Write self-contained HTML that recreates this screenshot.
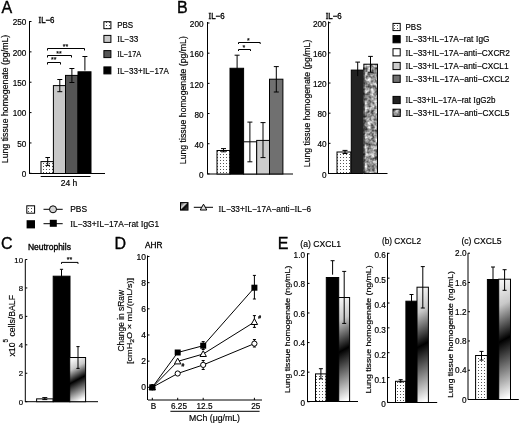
<!DOCTYPE html>
<html><head><meta charset="utf-8"><title>Figure</title>
<style>html,body{margin:0;padding:0;background:#fff;width:520px;height:423px;overflow:hidden} svg{filter:grayscale(1)}
svg text{font-family:"Liberation Sans", sans-serif;stroke:#000;stroke-width:0.18px} svg text.b{stroke-width:0.35px}</style></head>
<body><svg width="520" height="423" viewBox="0 0 520 423" font-family='"Liberation Sans", sans-serif' style="display:block"><defs><pattern id="dots" patternUnits="userSpaceOnUse" width="3" height="3"><rect width="3" height="3" fill="#fff"/><rect x="1" y="1" width="1" height="1" fill="#555"/></pattern><filter id="mottf" x="0" y="0" width="100%" height="100%" color-interpolation-filters="sRGB"><feTurbulence type="fractalNoise" baseFrequency="0.28" numOctaves="2" seed="5"/><feColorMatrix type="matrix" values="1.25 0 0 0 -0.03  1.25 0 0 0 -0.03  1.25 0 0 0 -0.03  0 0 0 0 1"/></filter><linearGradient id="grad" x1="0.45" y1="0" x2="0.55" y2="1"><stop offset="0" stop-color="#fff"/><stop offset="0.2" stop-color="#eee"/><stop offset="0.52" stop-color="#000"/><stop offset="1" stop-color="#fff"/></linearGradient><linearGradient id="gradsq" x1="0" y1="0" x2="1" y2="1"><stop offset="0" stop-color="#222"/><stop offset="0.42" stop-color="#ddd"/><stop offset="0.55" stop-color="#000"/><stop offset="1" stop-color="#555"/></linearGradient><linearGradient id="g1" gradientUnits="userSpaceOnUse" x1="68.51" y1="362.35" x2="86.79" y2="396.85"><stop offset="0" stop-color="#f4f4f4"/><stop offset="0.2" stop-color="#c8c8c8"/><stop offset="0.5" stop-color="#000"/><stop offset="1" stop-color="#fff"/></linearGradient><linearGradient id="g2" gradientUnits="userSpaceOnUse" x1="322.63" y1="308.9" x2="365.67" y2="390.1"><stop offset="0" stop-color="#f4f4f4"/><stop offset="0.2" stop-color="#c8c8c8"/><stop offset="0.5" stop-color="#000"/><stop offset="1" stop-color="#fff"/></linearGradient><linearGradient id="g3" gradientUnits="userSpaceOnUse" x1="398.85" y1="299.84" x2="446.55" y2="389.86"><stop offset="0" stop-color="#f4f4f4"/><stop offset="0.2" stop-color="#c8c8c8"/><stop offset="0.5" stop-color="#000"/><stop offset="1" stop-color="#fff"/></linearGradient><linearGradient id="g4" gradientUnits="userSpaceOnUse" x1="479.71" y1="292.39" x2="529.49" y2="386.31"><stop offset="0" stop-color="#f4f4f4"/><stop offset="0.2" stop-color="#c8c8c8"/><stop offset="0.5" stop-color="#000"/><stop offset="1" stop-color="#fff"/></linearGradient></defs><rect width="520" height="423" fill="#fff"/><text x="1.5" y="12.5" font-size="16" class="b">A</text>
<line x1="29.5" y1="21" x2="29.5" y2="173.5" stroke="#000" stroke-width="1"/>
<line x1="29.5" y1="173.3" x2="31.5" y2="173.3" stroke="#000" stroke-width="1"/>
<text x="26.3" y="177.1" font-size="8.2" text-anchor="end">0</text>
<line x1="29.5" y1="142.94" x2="31.5" y2="142.94" stroke="#000" stroke-width="1"/>
<text x="26.3" y="146.74" font-size="8.2" text-anchor="end">50</text>
<line x1="29.5" y1="112.58" x2="31.5" y2="112.58" stroke="#000" stroke-width="1"/>
<text x="26.3" y="116.38" font-size="8.2" text-anchor="end">100</text>
<line x1="29.5" y1="82.22" x2="31.5" y2="82.22" stroke="#000" stroke-width="1"/>
<text x="26.3" y="86.02" font-size="8.2" text-anchor="end">150</text>
<line x1="29.5" y1="51.86" x2="31.5" y2="51.86" stroke="#000" stroke-width="1"/>
<text x="26.3" y="55.66" font-size="8.2" text-anchor="end">200</text>
<line x1="29.5" y1="21.5" x2="31.5" y2="21.5" stroke="#000" stroke-width="1"/>
<text x="26.3" y="25.3" font-size="8.2" text-anchor="end">250</text>
<line x1="29" y1="173.5" x2="105" y2="173.5" stroke="#000" stroke-width="1"/>
<text x="38.5" y="22.5" font-size="9" class="b" textLength="16" lengthAdjust="spacingAndGlyphs"><tspan font-family="Liberation Serif">I</tspan>L−6</text>
<text x="5.4" y="99" font-size="8.3" text-anchor="middle" textLength="128.5" lengthAdjust="spacingAndGlyphs" transform="rotate(-90 5.4 99)" dy="2.8">Lung tissue homogenate (pg/mL)</text>
<rect x="41" y="161.6" width="12.4" height="11.9" fill="url(#dots)" stroke="#000" stroke-width="1"/>
<rect x="53.4" y="85.6" width="12.1" height="87.9" fill="#c8c8c8" stroke="#000" stroke-width="1"/>
<rect x="65.5" y="75.4" width="12.5" height="98.1" fill="#555" stroke="#000" stroke-width="1"/>
<rect x="78" y="71.8" width="13" height="101.7" fill="#000" stroke="#000" stroke-width="1"/>
<line x1="47.7" y1="157.5" x2="47.7" y2="165.4" stroke="#000" stroke-width="1"/>
<line x1="45.4" y1="157.5" x2="50" y2="157.5" stroke="#000" stroke-width="1"/>
<line x1="45.4" y1="165.4" x2="50" y2="165.4" stroke="#000" stroke-width="1"/>
<line x1="59.8" y1="79.5" x2="59.8" y2="91.7" stroke="#000" stroke-width="1"/>
<line x1="57.3" y1="79.5" x2="62.3" y2="79.5" stroke="#000" stroke-width="1"/>
<line x1="57.3" y1="91.7" x2="62.3" y2="91.7" stroke="#000" stroke-width="1"/>
<line x1="71.9" y1="68.5" x2="71.9" y2="82.5" stroke="#000" stroke-width="1"/>
<line x1="69.4" y1="68.5" x2="74.4" y2="68.5" stroke="#000" stroke-width="1"/>
<line x1="69.4" y1="82.5" x2="74.4" y2="82.5" stroke="#000" stroke-width="1"/>
<line x1="84.9" y1="56.5" x2="84.9" y2="70.5" stroke="#000" stroke-width="1"/>
<line x1="82.4" y1="56.5" x2="87.4" y2="56.5" stroke="#000" stroke-width="1"/>
<polyline points="47.5,64.5 47.5,62.5 60.5,62.5 60.5,64.5" fill="none" stroke="#000" stroke-width="1"/>
<polyline points="47.5,57.5 47.5,55.5 71.5,55.5 71.5,57.5" fill="none" stroke="#000" stroke-width="1"/>
<polyline points="47.5,50.5 47.5,48.5 84.5,48.5 84.5,50.5" fill="none" stroke="#000" stroke-width="1"/>
<text x="53.7" y="62" font-size="7" text-anchor="middle">**</text>
<text x="59" y="55.5" font-size="7" text-anchor="middle">**</text>
<text x="65.4" y="48.6" font-size="7" text-anchor="middle">**</text>
<line x1="40.7" y1="176.5" x2="90.5" y2="176.5" stroke="#000" stroke-width="1"/>
<text x="60.7" y="186" font-size="8.5" textLength="16.6" lengthAdjust="spacingAndGlyphs">24 h</text>
<rect x="103.9" y="21.7" width="7" height="7" fill="url(#dots)" stroke="#000" stroke-width="1"/>
<rect x="103.9" y="35.4" width="7" height="7" fill="#c8c8c8" stroke="#000" stroke-width="1"/>
<rect x="103.9" y="50.6" width="7" height="7" fill="#555" stroke="#000" stroke-width="1"/>
<rect x="103.9" y="66.9" width="7" height="7" fill="#000" stroke="#000" stroke-width="1"/>
<text x="117.2" y="28.4" font-size="8.5" textLength="16" lengthAdjust="spacingAndGlyphs">PBS</text>
<text x="117.2" y="42.1" font-size="8.5" textLength="21" lengthAdjust="spacingAndGlyphs"><tspan font-family="Liberation Serif">I</tspan>L−33</text>
<text x="117.2" y="57.3" font-size="8.5" textLength="24" lengthAdjust="spacingAndGlyphs"><tspan font-family="Liberation Serif">I</tspan>L−17A</text>
<text x="117.2" y="73.6" font-size="8.5" textLength="51.6" lengthAdjust="spacingAndGlyphs"><tspan font-family="Liberation Serif">I</tspan>L−33+<tspan font-family="Liberation Serif">I</tspan>L−17A</text>
<text x="177.1" y="12.5" font-size="16" class="b">B</text>
<line x1="207.5" y1="22" x2="207.5" y2="174" stroke="#000" stroke-width="1"/>
<line x1="207.5" y1="173.9" x2="209.5" y2="173.9" stroke="#000" stroke-width="1"/>
<text x="203.5" y="178.1" font-size="8.2" text-anchor="end">0</text>
<line x1="207.5" y1="143.72" x2="209.5" y2="143.72" stroke="#000" stroke-width="1"/>
<text x="203.5" y="147.92" font-size="8.2" text-anchor="end">40</text>
<line x1="207.5" y1="113.54" x2="209.5" y2="113.54" stroke="#000" stroke-width="1"/>
<text x="203.5" y="117.74" font-size="8.2" text-anchor="end">80</text>
<line x1="207.5" y1="83.36" x2="209.5" y2="83.36" stroke="#000" stroke-width="1"/>
<text x="203.5" y="87.56" font-size="8.2" text-anchor="end">120</text>
<line x1="207.5" y1="53.18" x2="209.5" y2="53.18" stroke="#000" stroke-width="1"/>
<text x="203.5" y="57.38" font-size="8.2" text-anchor="end">160</text>
<line x1="207.5" y1="23" x2="209.5" y2="23" stroke="#000" stroke-width="1"/>
<text x="203.5" y="27.2" font-size="8.2" text-anchor="end">200</text>
<line x1="207" y1="174" x2="293" y2="174" stroke="#000" stroke-width="1"/>
<text x="208.6" y="18.8" font-size="9" class="b" textLength="16" lengthAdjust="spacingAndGlyphs"><tspan font-family="Liberation Serif">I</tspan>L−6</text>
<text x="183.4" y="100.2" font-size="8.5" text-anchor="middle" textLength="128" lengthAdjust="spacingAndGlyphs" transform="rotate(-90 183.4 100.2)" dy="2.8">Lung tissue homogenate (pg/mL)</text>
<rect x="217" y="150.51" width="13" height="23.49" fill="url(#dots)" stroke="#000" stroke-width="1"/>
<rect x="230" y="68.27" width="13.6" height="105.73" fill="#000" stroke="#000" stroke-width="1"/>
<rect x="243.6" y="141.8" width="13.1" height="32.2" fill="#fff" stroke="#000" stroke-width="1"/>
<rect x="256.7" y="140.4" width="12.8" height="33.6" fill="#ccc" stroke="#000" stroke-width="1"/>
<rect x="269.5" y="79.2" width="13.4" height="94.8" fill="#707070" stroke="#000" stroke-width="1"/>
<line x1="223.5" y1="148.6" x2="223.5" y2="151.8" stroke="#000" stroke-width="1"/>
<line x1="221" y1="148.6" x2="226" y2="148.6" stroke="#000" stroke-width="1"/>
<line x1="221" y1="151.8" x2="226" y2="151.8" stroke="#000" stroke-width="1"/>
<line x1="237.1" y1="55.2" x2="237.1" y2="69.2" stroke="#000" stroke-width="1"/>
<line x1="234.6" y1="55.2" x2="239.6" y2="55.2" stroke="#000" stroke-width="1"/>
<line x1="249.9" y1="122.1" x2="249.9" y2="161.8" stroke="#000" stroke-width="1"/>
<line x1="247.4" y1="122.1" x2="252.4" y2="122.1" stroke="#000" stroke-width="1"/>
<line x1="247.4" y1="161.8" x2="252.4" y2="161.8" stroke="#000" stroke-width="1"/>
<line x1="263" y1="122.6" x2="263" y2="157.6" stroke="#000" stroke-width="1"/>
<line x1="260.5" y1="122.6" x2="265.5" y2="122.6" stroke="#000" stroke-width="1"/>
<line x1="260.5" y1="157.6" x2="265.5" y2="157.6" stroke="#000" stroke-width="1"/>
<line x1="276.3" y1="66.6" x2="276.3" y2="92" stroke="#000" stroke-width="1"/>
<line x1="273.8" y1="66.6" x2="278.8" y2="66.6" stroke="#000" stroke-width="1"/>
<line x1="273.8" y1="92" x2="278.8" y2="92" stroke="#000" stroke-width="1"/>
<polyline points="238.5,51 238.5,49.5 250.5,49.5 250.5,51" fill="none" stroke="#000" stroke-width="1"/>
<polyline points="238.5,44 238.5,42.5 260.2,42.5 260.2,44" fill="none" stroke="#000" stroke-width="1"/>
<text x="243.9" y="50.2" font-size="7" text-anchor="middle">*</text>
<text x="248.4" y="42.5" font-size="7" text-anchor="middle">*</text>
<line x1="328.5" y1="21.5" x2="328.5" y2="173.5" stroke="#000" stroke-width="1"/>
<line x1="328.5" y1="173.5" x2="330.5" y2="173.5" stroke="#000" stroke-width="1"/>
<text x="326.6" y="177.5" font-size="8.2" text-anchor="end">0</text>
<line x1="328.5" y1="143.34" x2="330.5" y2="143.34" stroke="#000" stroke-width="1"/>
<text x="326.6" y="147.34" font-size="8.2" text-anchor="end">40</text>
<line x1="328.5" y1="113.18" x2="330.5" y2="113.18" stroke="#000" stroke-width="1"/>
<text x="326.6" y="117.18" font-size="8.2" text-anchor="end">80</text>
<line x1="328.5" y1="83.02" x2="330.5" y2="83.02" stroke="#000" stroke-width="1"/>
<text x="326.6" y="87.02" font-size="8.2" text-anchor="end">120</text>
<line x1="328.5" y1="52.86" x2="330.5" y2="52.86" stroke="#000" stroke-width="1"/>
<text x="326.6" y="56.86" font-size="8.2" text-anchor="end">160</text>
<line x1="328.5" y1="22.7" x2="330.5" y2="22.7" stroke="#000" stroke-width="1"/>
<text x="326.6" y="26.7" font-size="8.2" text-anchor="end">200</text>
<line x1="328" y1="173.5" x2="387.5" y2="173.5" stroke="#000" stroke-width="1"/>
<text x="325.7" y="18.8" font-size="9" class="b" textLength="16" lengthAdjust="spacingAndGlyphs"><tspan font-family="Liberation Serif">I</tspan>L−6</text>
<text x="307.7" y="103.4" font-size="8.5" text-anchor="middle" textLength="127.5" lengthAdjust="spacingAndGlyphs" transform="rotate(-90 307.7 103.4)" dy="2.8">Lung tissue homogenate (pg/mL)</text>
<rect x="337" y="152" width="13.8" height="21.5" fill="url(#dots)" stroke="#000" stroke-width="1"/>
<rect x="351.3" y="70.1" width="12.6" height="103.4" fill="#222" stroke="#000" stroke-width="1"/>
<rect x="363.9" y="64.2" width="13.6" height="109.3" fill="#999" filter="url(#mottf)"/>
<rect x="363.9" y="64.2" width="13.6" height="109.3" fill="none" stroke="#000" stroke-width="1"/>
<line x1="345" y1="150.4" x2="345" y2="153.5" stroke="#000" stroke-width="1"/>
<line x1="342.5" y1="150.4" x2="347.5" y2="150.4" stroke="#000" stroke-width="1"/>
<line x1="342.5" y1="153.5" x2="347.5" y2="153.5" stroke="#000" stroke-width="1"/>
<line x1="357.7" y1="62.1" x2="357.7" y2="76.1" stroke="#000" stroke-width="1"/>
<line x1="355.35" y1="62.1" x2="360.05" y2="62.1" stroke="#000" stroke-width="1"/>
<line x1="370.5" y1="56.4" x2="370.5" y2="72.2" stroke="#000" stroke-width="1"/>
<line x1="368.15" y1="56.4" x2="372.85" y2="56.4" stroke="#000" stroke-width="1"/>
<line x1="368.15" y1="72.2" x2="372.85" y2="72.2" stroke="#000" stroke-width="1"/>
<rect x="393" y="23.4" width="7.2" height="7.2" fill="url(#dots)" stroke="#000" stroke-width="1"/>
<text x="405.5" y="30.2" font-size="8.8" textLength="16" lengthAdjust="spacingAndGlyphs">PBS</text>
<rect x="393" y="35.6" width="7.2" height="7.2" fill="#000" stroke="#000" stroke-width="1"/>
<text x="405.5" y="42.4" font-size="8.8" textLength="84" lengthAdjust="spacingAndGlyphs"><tspan font-family="Liberation Serif">I</tspan>L−33+<tspan font-family="Liberation Serif">I</tspan>L−17A−rat <tspan font-family="Liberation Serif">I</tspan>gG</text>
<rect x="393" y="48.7" width="7.2" height="7.2" fill="#fff" stroke="#000" stroke-width="1"/>
<text x="405.5" y="55.5" font-size="8.8" textLength="104.5" lengthAdjust="spacingAndGlyphs"><tspan font-family="Liberation Serif">I</tspan>L−33+<tspan font-family="Liberation Serif">I</tspan>L−17A−anti−CXCR2</text>
<rect x="393" y="62.4" width="7.2" height="7.2" fill="#ccc" stroke="#000" stroke-width="1"/>
<text x="405.5" y="69.2" font-size="8.8" textLength="103" lengthAdjust="spacingAndGlyphs"><tspan font-family="Liberation Serif">I</tspan>L−33+<tspan font-family="Liberation Serif">I</tspan>L−17A−anti−CXCL1</text>
<rect x="393" y="75.2" width="7.2" height="7.2" fill="#707070" stroke="#000" stroke-width="1"/>
<text x="405.5" y="82" font-size="8.8" textLength="104" lengthAdjust="spacingAndGlyphs"><tspan font-family="Liberation Serif">I</tspan>L−33+<tspan font-family="Liberation Serif">I</tspan>L−17A−anti−CXCL2</text>
<rect x="393" y="96.4" width="7.2" height="7.2" fill="#222" stroke="#000" stroke-width="1"/>
<text x="405.5" y="103.2" font-size="8.8" textLength="90" lengthAdjust="spacingAndGlyphs"><tspan font-family="Liberation Serif">I</tspan>L−33+<tspan font-family="Liberation Serif">I</tspan>L−17A−rat <tspan font-family="Liberation Serif">I</tspan>gG2b</text>
<rect x="393" y="109.2" width="7.2" height="7.2" fill="#999" filter="url(#mottf)"/>
<rect x="393" y="109.2" width="7.2" height="7.2" fill="none" stroke="#000" stroke-width="1"/>
<text x="405.5" y="116" font-size="8.8" textLength="104" lengthAdjust="spacingAndGlyphs"><tspan font-family="Liberation Serif">I</tspan>L−33+<tspan font-family="Liberation Serif">I</tspan>L−17A−anti−CXCL5</text>
<rect x="26.8" y="205.8" width="7.8" height="7.4" fill="url(#dots)" stroke="#000" stroke-width="1"/>
<line x1="43.5" y1="209.3" x2="62.7" y2="209.3" stroke="#000" stroke-width="1"/>
<circle cx="53" cy="209.3" r="3.5" fill="#d4d4d4" stroke="#000" stroke-width="1"/>
<text x="70.2" y="212.3" font-size="8.8" textLength="16.8" lengthAdjust="spacingAndGlyphs">PBS</text>
<rect x="26.6" y="220.2" width="8.4" height="8.2" fill="#000"/>
<line x1="43.5" y1="223.7" x2="62.7" y2="223.7" stroke="#000" stroke-width="1"/>
<rect x="49.8" y="219.8" width="7" height="7" fill="#000"/>
<text x="70.2" y="226.5" font-size="8.8" textLength="89" lengthAdjust="spacingAndGlyphs"><tspan font-family="Liberation Serif">I</tspan>L−33+<tspan font-family="Liberation Serif">I</tspan>L−17A−rat <tspan font-family="Liberation Serif">I</tspan>gG1</text>
<rect x="180.5" y="202.6" width="7.5" height="7.5" fill="url(#gradsq)" stroke="#000" stroke-width="1"/>
<line x1="193.8" y1="207.3" x2="213" y2="207.3" stroke="#000" stroke-width="1"/>
<polygon points="203.5,204.2 200.2,210 206.8,210" fill="#ddd" stroke="#000" stroke-width="1"/>
<text x="218.6" y="211.7" font-size="8.8" textLength="92.6" lengthAdjust="spacingAndGlyphs"><tspan font-family="Liberation Serif">I</tspan>L−33+<tspan font-family="Liberation Serif">I</tspan>L−17A−anti−<tspan font-family="Liberation Serif">I</tspan>L−6</text>
<text x="1.1" y="249" font-size="16" class="b">C</text>
<text x="27.9" y="250.2" font-size="8.5" class="b" textLength="43" lengthAdjust="spacingAndGlyphs">Neutrophils</text>
<line x1="25.3" y1="259.5" x2="25.3" y2="402" stroke="#000" stroke-width="1"/>
<line x1="25.3" y1="401.7" x2="27.3" y2="401.7" stroke="#000" stroke-width="1"/>
<text x="23" y="404.7" font-size="7.8" text-anchor="end">0</text>
<line x1="25.3" y1="373.26" x2="27.3" y2="373.26" stroke="#000" stroke-width="1"/>
<text x="23" y="376.26" font-size="7.8" text-anchor="end">2</text>
<line x1="25.3" y1="344.82" x2="27.3" y2="344.82" stroke="#000" stroke-width="1"/>
<text x="23" y="347.82" font-size="7.8" text-anchor="end">4</text>
<line x1="25.3" y1="316.38" x2="27.3" y2="316.38" stroke="#000" stroke-width="1"/>
<text x="23" y="319.38" font-size="7.8" text-anchor="end">6</text>
<line x1="25.3" y1="287.94" x2="27.3" y2="287.94" stroke="#000" stroke-width="1"/>
<text x="23" y="290.94" font-size="7.8" text-anchor="end">8</text>
<line x1="25.3" y1="259.5" x2="27.3" y2="259.5" stroke="#000" stroke-width="1"/>
<text x="23" y="262.5" font-size="7.8" text-anchor="end">10</text>
<line x1="25" y1="401.7" x2="98" y2="401.7" stroke="#000" stroke-width="1"/>
<text x="14.8" y="325.8" font-size="9.3" text-anchor="middle" textLength="61.5" lengthAdjust="spacingAndGlyphs" transform="rotate(-90 14.8 325.8)">x10<tspan font-size="6.8" dy="-7.2">5</tspan><tspan dy="7.2"> cells/BALF</tspan></text>
<rect x="36.6" y="398.86" width="16.6" height="2.84" fill="#fff" stroke="#000" stroke-width="1"/>
<rect x="53.2" y="276.2" width="16.8" height="125.5" fill="#000" stroke="#000" stroke-width="1"/>
<rect x="69.7" y="357.5" width="15.9" height="44.2" fill="url(#g1)" stroke="#000" stroke-width="1"/>
<line x1="44.8" y1="397.6" x2="44.8" y2="399.6" stroke="#000" stroke-width="1"/>
<line x1="42.3" y1="397.6" x2="47.3" y2="397.6" stroke="#000" stroke-width="1"/>
<line x1="42.3" y1="399.6" x2="47.3" y2="399.6" stroke="#000" stroke-width="1"/>
<line x1="61.5" y1="269.3" x2="61.5" y2="283.3" stroke="#000" stroke-width="1"/>
<line x1="59.9" y1="269.3" x2="63.1" y2="269.3" stroke="#000" stroke-width="1"/>
<line x1="78" y1="346.6" x2="78" y2="368.4" stroke="#000" stroke-width="1"/>
<line x1="76.4" y1="346.6" x2="79.6" y2="346.6" stroke="#000" stroke-width="1"/>
<line x1="76.4" y1="368.4" x2="79.6" y2="368.4" stroke="#000" stroke-width="1"/>
<polyline points="61.5,263.9 61.5,262.4 78,262.4 78,263.9" fill="none" stroke="#000" stroke-width="1"/>
<text x="69.6" y="262" font-size="7" text-anchor="middle">**</text>
<text x="114.6" y="248.5" font-size="16" class="b">D</text>
<text x="145" y="248.1" font-size="9" class="b" textLength="17.4" lengthAdjust="spacingAndGlyphs">AHR</text>
<line x1="147.5" y1="255.5" x2="147.5" y2="400" stroke="#000" stroke-width="1"/>
<line x1="147.5" y1="387.3" x2="149.5" y2="387.3" stroke="#000" stroke-width="1"/>
<text x="146" y="390.3" font-size="8.5" text-anchor="end">0</text>
<line x1="147.5" y1="361.14" x2="149.5" y2="361.14" stroke="#000" stroke-width="1"/>
<text x="146" y="364.14" font-size="8.5" text-anchor="end">2</text>
<line x1="147.5" y1="334.98" x2="149.5" y2="334.98" stroke="#000" stroke-width="1"/>
<text x="146" y="337.98" font-size="8.5" text-anchor="end">4</text>
<line x1="147.5" y1="308.82" x2="149.5" y2="308.82" stroke="#000" stroke-width="1"/>
<text x="146" y="311.82" font-size="8.5" text-anchor="end">6</text>
<line x1="147.5" y1="282.66" x2="149.5" y2="282.66" stroke="#000" stroke-width="1"/>
<text x="146" y="285.66" font-size="8.5" text-anchor="end">8</text>
<line x1="147.5" y1="256.5" x2="149.5" y2="256.5" stroke="#000" stroke-width="1"/>
<text x="146" y="259.5" font-size="8.5" text-anchor="end">10</text>
<line x1="148" y1="400" x2="262" y2="400" stroke="#000" stroke-width="1"/>
<line x1="152.3" y1="397.8" x2="152.3" y2="400" stroke="#000" stroke-width="1"/>
<line x1="177.7" y1="397.8" x2="177.7" y2="400" stroke="#000" stroke-width="1"/>
<line x1="203.2" y1="397.8" x2="203.2" y2="400" stroke="#000" stroke-width="1"/>
<line x1="254.4" y1="397.8" x2="254.4" y2="400" stroke="#000" stroke-width="1"/>
<text x="153.6" y="409" font-size="8.2" text-anchor="middle">B</text>
<text x="179" y="409" font-size="8.2" text-anchor="middle">6.25</text>
<text x="204.5" y="409" font-size="8.2" text-anchor="middle">12.5</text>
<text x="255.7" y="409" font-size="8.2" text-anchor="middle">25</text>
<line x1="170.4" y1="411.3" x2="259.6" y2="411.3" stroke="#000" stroke-width="1"/>
<text x="189" y="420.9" font-size="8.8" textLength="51" lengthAdjust="spacingAndGlyphs">MCh (μg/mL)</text>
<text x="123.6" y="320.8" font-size="8.6" text-anchor="middle" textLength="61.5" lengthAdjust="spacingAndGlyphs" transform="rotate(-90 123.6 320.8)">Change in sRaw</text>
<text x="131.6" y="321" font-size="8" text-anchor="middle" textLength="86" lengthAdjust="spacingAndGlyphs" transform="rotate(-90 131.6 321)">[cmH<tspan font-size="6" dy="2">2</tspan><tspan dy="-2">O × mL/(mL/s)]</tspan></text>
<polyline points="152.3,387.3 177.7,352.5 203.2,345.7 254.4,287.7" fill="none" stroke="#000" stroke-width="1"/>
<polyline points="152.3,387.3 177.7,361.4 203.2,354 254.4,322" fill="none" stroke="#000" stroke-width="1"/>
<polyline points="152.3,387.3 177.7,373.5 203.2,364.9 254.4,343.6" fill="none" stroke="#000" stroke-width="1"/>
<line x1="254.4" y1="275.4" x2="254.4" y2="299" stroke="#000" stroke-width="1"/>
<line x1="252.9" y1="275.4" x2="255.9" y2="275.4" stroke="#000" stroke-width="1"/>
<line x1="252.9" y1="299" x2="255.9" y2="299" stroke="#000" stroke-width="1"/>
<line x1="254.4" y1="315.6" x2="254.4" y2="327.4" stroke="#000" stroke-width="1"/>
<line x1="252.9" y1="315.6" x2="255.9" y2="315.6" stroke="#000" stroke-width="1"/>
<line x1="252.9" y1="327.4" x2="255.9" y2="327.4" stroke="#000" stroke-width="1"/>
<line x1="254.4" y1="339.5" x2="254.4" y2="347" stroke="#000" stroke-width="1"/>
<line x1="252.9" y1="339.5" x2="255.9" y2="339.5" stroke="#000" stroke-width="1"/>
<line x1="252.9" y1="347" x2="255.9" y2="347" stroke="#000" stroke-width="1"/>
<line x1="203.2" y1="341.6" x2="203.2" y2="349.5" stroke="#000" stroke-width="1"/>
<line x1="201.7" y1="341.6" x2="204.7" y2="341.6" stroke="#000" stroke-width="1"/>
<line x1="201.7" y1="349.5" x2="204.7" y2="349.5" stroke="#000" stroke-width="1"/>
<line x1="203.2" y1="360.5" x2="203.2" y2="369.5" stroke="#000" stroke-width="1"/>
<line x1="201.7" y1="360.5" x2="204.7" y2="360.5" stroke="#000" stroke-width="1"/>
<line x1="201.7" y1="369.5" x2="204.7" y2="369.5" stroke="#000" stroke-width="1"/>
<circle cx="152.3" cy="387.3" r="2.6" fill="#fff" stroke="#000" stroke-width="1"/>
<circle cx="177.7" cy="373.5" r="2.6" fill="#fff" stroke="#000" stroke-width="1"/>
<circle cx="203.2" cy="364.9" r="2.6" fill="#fff" stroke="#000" stroke-width="1"/>
<circle cx="254.4" cy="343.6" r="2.6" fill="#fff" stroke="#000" stroke-width="1"/>
<polygon points="152.3,384 149.1,389.8 155.5,389.8" fill="#fff" stroke="#000" stroke-width="1"/>
<polygon points="177.7,358.1 174.5,363.9 180.9,363.9" fill="#fff" stroke="#000" stroke-width="1"/>
<polygon points="203.2,350.7 200,356.5 206.4,356.5" fill="#fff" stroke="#000" stroke-width="1"/>
<polygon points="254.4,318.7 251.2,324.5 257.6,324.5" fill="#fff" stroke="#000" stroke-width="1"/>
<rect x="149.3" y="384.3" width="6" height="6" fill="#000"/>
<rect x="174.7" y="349.5" width="6" height="6" fill="#000"/>
<rect x="200.2" y="342.7" width="6" height="6" fill="#000"/>
<rect x="251.4" y="284.7" width="6" height="6" fill="#000"/>
<text x="182.8" y="367" font-size="5" text-anchor="middle">#</text>
<text x="259.6" y="319.2" font-size="5" text-anchor="middle">#</text>
<text x="277.7" y="249" font-size="16" class="b">E</text>
<text x="300.3" y="246.6" font-size="8.8" textLength="40.7" lengthAdjust="spacingAndGlyphs">(a) CXCL1</text>
<line x1="307.5" y1="253.3" x2="307.5" y2="401.5" stroke="#000" stroke-width="1"/>
<line x1="307.5" y1="401.76" x2="309.5" y2="401.76" stroke="#000" stroke-width="1"/>
<text x="305" y="405.56" font-size="8.2" text-anchor="end">0</text>
<line x1="307.5" y1="372.17" x2="309.5" y2="372.17" stroke="#000" stroke-width="1"/>
<text x="305" y="375.97" font-size="8.2" text-anchor="end">0.2</text>
<line x1="307.5" y1="342.58" x2="309.5" y2="342.58" stroke="#000" stroke-width="1"/>
<text x="305" y="346.38" font-size="8.2" text-anchor="end">0.4</text>
<line x1="307.5" y1="312.98" x2="309.5" y2="312.98" stroke="#000" stroke-width="1"/>
<text x="305" y="316.78" font-size="8.2" text-anchor="end">0.6</text>
<line x1="307.5" y1="283.39" x2="309.5" y2="283.39" stroke="#000" stroke-width="1"/>
<text x="305" y="287.19" font-size="8.2" text-anchor="end">0.8</text>
<line x1="307.5" y1="253.8" x2="309.5" y2="253.8" stroke="#000" stroke-width="1"/>
<text x="305" y="257.6" font-size="8.2" text-anchor="end">1.0</text>
<line x1="307" y1="401.5" x2="358" y2="401.5" stroke="#000" stroke-width="1"/>
<text x="287.6" y="329.3" font-size="7.6" text-anchor="middle" textLength="127.2" lengthAdjust="spacingAndGlyphs" transform="rotate(-90 287.6 329.3)" dy="2.6">Lung tissue homogenate (ng/mL)</text>
<rect x="315.5" y="373.9" width="10.8" height="27.6" fill="url(#dots)" stroke="#000" stroke-width="1"/>
<rect x="326.3" y="277.5" width="12.4" height="124" fill="#000" stroke="#000" stroke-width="1"/>
<rect x="338.7" y="297.5" width="10.9" height="104" fill="url(#g2)" stroke="#000" stroke-width="1"/>
<line x1="320.9" y1="368.7" x2="320.9" y2="378.8" stroke="#000" stroke-width="1"/>
<line x1="318.9" y1="368.7" x2="322.9" y2="368.7" stroke="#000" stroke-width="1"/>
<line x1="318.9" y1="378.8" x2="322.9" y2="378.8" stroke="#000" stroke-width="1"/>
<line x1="332.6" y1="260.7" x2="332.6" y2="274.7" stroke="#000" stroke-width="1"/>
<line x1="330.6" y1="260.7" x2="334.6" y2="260.7" stroke="#000" stroke-width="1"/>
<line x1="344.2" y1="271.4" x2="344.2" y2="323.4" stroke="#000" stroke-width="1"/>
<line x1="342.2" y1="271.4" x2="346.2" y2="271.4" stroke="#000" stroke-width="1"/>
<line x1="342.2" y1="323.4" x2="346.2" y2="323.4" stroke="#000" stroke-width="1"/>
<text x="381.9" y="244.3" font-size="8.8" textLength="39.1" lengthAdjust="spacingAndGlyphs">(b) CXCL2</text>
<line x1="387.5" y1="252.8" x2="387.5" y2="402.5" stroke="#000" stroke-width="1"/>
<line x1="387.5" y1="402.4" x2="389.5" y2="402.4" stroke="#000" stroke-width="1"/>
<text x="385.8" y="407.4" font-size="8.2" text-anchor="end">0</text>
<line x1="387.5" y1="377.55" x2="389.5" y2="377.55" stroke="#000" stroke-width="1"/>
<text x="385.8" y="382.55" font-size="8.2" text-anchor="end">0.1</text>
<line x1="387.5" y1="352.7" x2="389.5" y2="352.7" stroke="#000" stroke-width="1"/>
<text x="385.8" y="357.7" font-size="8.2" text-anchor="end">0.2</text>
<line x1="387.5" y1="327.85" x2="389.5" y2="327.85" stroke="#000" stroke-width="1"/>
<text x="385.8" y="332.85" font-size="8.2" text-anchor="end">0.3</text>
<line x1="387.5" y1="303" x2="389.5" y2="303" stroke="#000" stroke-width="1"/>
<text x="385.8" y="308" font-size="8.2" text-anchor="end">0.4</text>
<line x1="387.5" y1="278.15" x2="389.5" y2="278.15" stroke="#000" stroke-width="1"/>
<text x="385.8" y="283.15" font-size="8.2" text-anchor="end">0.5</text>
<line x1="387.5" y1="253.3" x2="389.5" y2="253.3" stroke="#000" stroke-width="1"/>
<text x="385.8" y="258.3" font-size="8.2" text-anchor="end">0.6</text>
<line x1="387.3" y1="402.5" x2="437.2" y2="402.5" stroke="#000" stroke-width="1"/>
<text x="368.7" y="329.5" font-size="7.6" text-anchor="middle" textLength="128.2" lengthAdjust="spacingAndGlyphs" transform="rotate(-90 368.7 329.5)" dy="2.6">Lung tissue homogenate (ng/mL)</text>
<rect x="395.5" y="381.3" width="10.4" height="21.2" fill="url(#dots)" stroke="#000" stroke-width="1"/>
<rect x="405.9" y="301.2" width="11.1" height="101.3" fill="#000" stroke="#000" stroke-width="1"/>
<rect x="417" y="287.2" width="11.4" height="115.3" fill="url(#g3)" stroke="#000" stroke-width="1"/>
<line x1="400.7" y1="379.7" x2="400.7" y2="382" stroke="#000" stroke-width="1"/>
<line x1="398.7" y1="379.7" x2="402.7" y2="379.7" stroke="#000" stroke-width="1"/>
<line x1="398.7" y1="382" x2="402.7" y2="382" stroke="#000" stroke-width="1"/>
<line x1="411.5" y1="294.5" x2="411.5" y2="308.5" stroke="#000" stroke-width="1"/>
<line x1="409.5" y1="294.5" x2="413.5" y2="294.5" stroke="#000" stroke-width="1"/>
<line x1="422.8" y1="266.6" x2="422.8" y2="308" stroke="#000" stroke-width="1"/>
<line x1="420.8" y1="266.6" x2="424.8" y2="266.6" stroke="#000" stroke-width="1"/>
<line x1="420.8" y1="308" x2="424.8" y2="308" stroke="#000" stroke-width="1"/>
<text x="461.4" y="243.6" font-size="8.8" textLength="40.2" lengthAdjust="spacingAndGlyphs">(c) CXCL5</text>
<line x1="468" y1="253.2" x2="468" y2="399.5" stroke="#000" stroke-width="1"/>
<line x1="468" y1="399.5" x2="470" y2="399.5" stroke="#000" stroke-width="1"/>
<text x="466.5" y="402.7" font-size="8.2" text-anchor="end">0</text>
<line x1="468" y1="370.24" x2="470" y2="370.24" stroke="#000" stroke-width="1"/>
<text x="466.5" y="373.44" font-size="8.2" text-anchor="end">0.4</text>
<line x1="468" y1="340.98" x2="470" y2="340.98" stroke="#000" stroke-width="1"/>
<text x="466.5" y="344.18" font-size="8.2" text-anchor="end">0.8</text>
<line x1="468" y1="311.72" x2="470" y2="311.72" stroke="#000" stroke-width="1"/>
<text x="466.5" y="314.92" font-size="8.2" text-anchor="end">1.2</text>
<line x1="468" y1="282.46" x2="470" y2="282.46" stroke="#000" stroke-width="1"/>
<text x="466.5" y="285.66" font-size="8.2" text-anchor="end">1.6</text>
<line x1="468" y1="253.2" x2="470" y2="253.2" stroke="#000" stroke-width="1"/>
<text x="466.5" y="256.4" font-size="8.2" text-anchor="end">2.0</text>
<line x1="468" y1="399.5" x2="518.8" y2="399.5" stroke="#000" stroke-width="1"/>
<text x="450.3" y="334.4" font-size="7.6" text-anchor="middle" textLength="126.7" lengthAdjust="spacingAndGlyphs" transform="rotate(-90 450.3 334.4)" dy="2.6">Lung tissue homogenate (ng/mL)</text>
<rect x="475.6" y="355.5" width="11.8" height="44" fill="url(#dots)" stroke="#000" stroke-width="1"/>
<rect x="487.4" y="279.5" width="11.3" height="120" fill="#000" stroke="#000" stroke-width="1"/>
<rect x="498.7" y="279.2" width="11.8" height="120.3" fill="url(#g4)" stroke="#000" stroke-width="1"/>
<line x1="481.5" y1="351.4" x2="481.5" y2="360.1" stroke="#000" stroke-width="1"/>
<line x1="479.5" y1="351.4" x2="483.5" y2="351.4" stroke="#000" stroke-width="1"/>
<line x1="479.5" y1="360.1" x2="483.5" y2="360.1" stroke="#000" stroke-width="1"/>
<line x1="493" y1="267" x2="493" y2="281" stroke="#000" stroke-width="1"/>
<line x1="491" y1="267" x2="495" y2="267" stroke="#000" stroke-width="1"/>
<line x1="504.6" y1="269.7" x2="504.6" y2="290.3" stroke="#000" stroke-width="1"/>
<line x1="502.6" y1="269.7" x2="506.6" y2="269.7" stroke="#000" stroke-width="1"/>
<line x1="502.6" y1="290.3" x2="506.6" y2="290.3" stroke="#000" stroke-width="1"/></svg></body></html>
